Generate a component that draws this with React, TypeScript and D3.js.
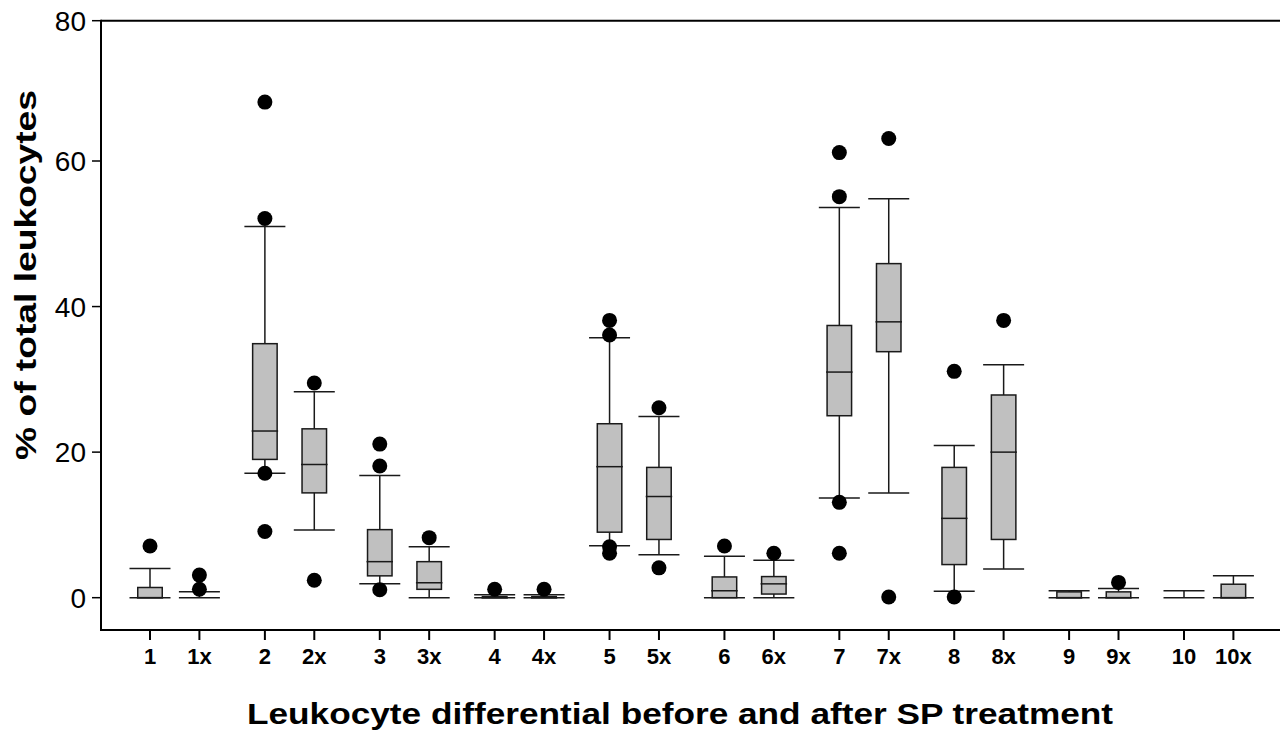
import { useEffect, useRef } from 'react';
import * as d3 from 'd3';

// Box plot of leukocyte differential (% of total), before (n) and after SP treatment (nx)
const labels = ['1', '1x', '2', '2x', '3', '3x', '4', '4x', '5', '5x', '6', '6x', '7', '7x', '8', '8x', '9', '9x', '10', '10x'];
const whiskerHigh = [4.0, 0.8, 51.0, 28.3, 16.8, 7.0, 0.4, 0.4, 35.7, 24.9, 5.7, 5.15, 53.6, 54.8, 20.9, 32.0, 0.95, 1.25, 0.95, 3.0];
const q3 = [1.4, 0, 34.9, 23.2, 9.35, 4.95, 0.15, 0.15, 23.9, 17.9, 2.85, 2.9, 37.4, 45.9, 17.9, 27.85, 0.8, 0.8, 0, 1.85];
const median = [0, 0, 22.9, 18.3, 4.95, 2.05, 0, 0, 18.0, 13.9, 0.95, 1.9, 31.0, 37.9, 10.9, 20.0, 0, 0, 0, 0];
const q1 = [0, 0, 19.0, 14.4, 3.0, 1.15, 0, 0, 9.0, 8.0, 0, 0.5, 25.0, 33.8, 4.55, 8.0, 0, 0, 0, 0];
const whiskerLow = [0, 0, 17.1, 9.3, 1.9, 0, 0, 0, 7.15, 5.9, 0, 0, 13.7, 14.4, 0.9, 3.95, 0, 0, 0, 0];
const outliers = [
  [7.1], [3.1, 1.15], [68.4, 52.1, 17.1, 9.1], [29.5, 2.4], [21.1, 18.1, 1.1], [8.25],
  [1.15], [1.15], [38.1, 36.1, 7.0, 6.1], [26.1, 4.1], [7.1], [6.1],
  [61.2, 55.1, 13.1, 6.1], [63.2, 0.1], [31.1, 0.1], [38.1], [], [2.1], [], [],
];
const yTicks = [0, 20, 40, 60, 80];

const W = 1280;
const H = 730;
const FONT = '"Liberation Sans", Arial, sans-serif';

export default function App() {
  const svgRef = useRef<SVGSVGElement>(null);

  useEffect(() => {
    const svg = d3.select(svgRef.current);
    svg.selectAll('*').remove();

    const left = 101;
    const bottom = 630;
    const top = 20.7;

    // slot: group number, "x" (after treatment) sits a bit to the right
    const slot = (i: number) => Math.floor(i / 2) + 1 + (i % 2 ? 0.43 : 0);
    const x = d3.scaleLinear().domain([1, 10]).range([150, 1184]);
    const y = d3.scaleLinear().domain([-4.44, 60, 80]).range([bottom, 161, top]);

    const boxW = 24.5;
    const capW = 41;
    const ink = '#1a1a1a';

    // axes frame
    svg.append('line').attr('x1', left).attr('x2', W).attr('y1', top).attr('y2', top)
      .attr('stroke', '#000').attr('stroke-width', 2);
    svg.append('line').attr('x1', left).attr('x2', W).attr('y1', bottom).attr('y2', bottom)
      .attr('stroke', '#000').attr('stroke-width', 2);
    svg.append('line').attr('x1', left).attr('x2', left).attr('y1', top - 1).attr('y2', bottom + 1)
      .attr('stroke', '#000').attr('stroke-width', 2);

    // y ticks
    const yt = svg.append('g');
    yTicks.forEach((t) => {
      yt.append('line').attr('x1', left - 9).attr('x2', left).attr('y1', y(t)).attr('y2', y(t))
        .attr('stroke', '#000').attr('stroke-width', 1.5);
      yt.append('text').attr('x', left - 15).attr('y', y(t)).attr('dy', '0.36em')
        .attr('text-anchor', 'end').attr('font-family', FONT).attr('font-size', 28)
        .attr('fill', '#000').text(String(t));
    });

    // x ticks
    const xt = svg.append('g');
    labels.forEach((lab, i) => {
      const cx = x(slot(i));
      xt.append('line').attr('x1', cx).attr('x2', cx).attr('y1', bottom).attr('y2', bottom + 10)
        .attr('stroke', '#000').attr('stroke-width', 2);
      xt.append('text').attr('x', cx).attr('y', 664).attr('text-anchor', 'middle')
        .attr('font-family', FONT).attr('font-size', 22).attr('font-weight', 'bold')
        .attr('fill', '#000').text(lab);
    });

    // boxes
    const g = svg.append('g');
    labels.forEach((_lab, i) => {
      const cx = x(slot(i));
      g.append('line').attr('x1', cx).attr('x2', cx).attr('y1', y(whiskerLow[i])).attr('y2', y(whiskerHigh[i]))
        .attr('stroke', ink).attr('stroke-width', 1.5);
      [whiskerLow[i], whiskerHigh[i]].forEach((v) => {
        g.append('line').attr('x1', cx - capW / 2).attr('x2', cx + capW / 2).attr('y1', y(v)).attr('y2', y(v))
          .attr('stroke', ink).attr('stroke-width', 1.5);
      });
      if (q3[i] > q1[i]) {
        g.append('rect').attr('x', cx - boxW / 2).attr('width', boxW)
          .attr('y', y(q3[i])).attr('height', y(q1[i]) - y(q3[i]))
          .attr('fill', '#c0c0c0').attr('stroke', ink).attr('stroke-width', 1.5);
        g.append('line').attr('x1', cx - boxW / 2 - 1).attr('x2', cx + boxW / 2 + 1)
          .attr('y1', y(median[i])).attr('y2', y(median[i]))
          .attr('stroke', ink).attr('stroke-width', 1.5);
      }
      outliers[i].forEach((v) => {
        g.append('circle').attr('cx', cx).attr('cy', y(v)).attr('r', 7.5).attr('fill', '#000');
      });
    });

    // titles
    svg.append('text').attr('x', 680).attr('y', 724).attr('text-anchor', 'middle')
      .attr('font-family', FONT).attr('font-size', 30).attr('font-weight', 'bold')
      .attr('textLength', 866).attr('lengthAdjust', 'spacingAndGlyphs')
      .attr('fill', '#000').text('Leukocyte differential before and after SP treatment');
    svg.append('text').attr('transform', 'translate(36,275) rotate(-90)').attr('text-anchor', 'middle')
      .attr('font-family', FONT).attr('font-size', 30).attr('font-weight', 'bold')
      .attr('textLength', 370).attr('lengthAdjust', 'spacingAndGlyphs')
      .attr('fill', '#000').text('% of total leukocytes');
  }, []);

  return (
    <svg
      ref={svgRef}
      width={W}
      height={H}
      viewBox={`0 0 ${W} ${H}`}
      style={{ position: 'absolute', left: 0, top: 0, background: '#fff' }}
    />
  );
}
